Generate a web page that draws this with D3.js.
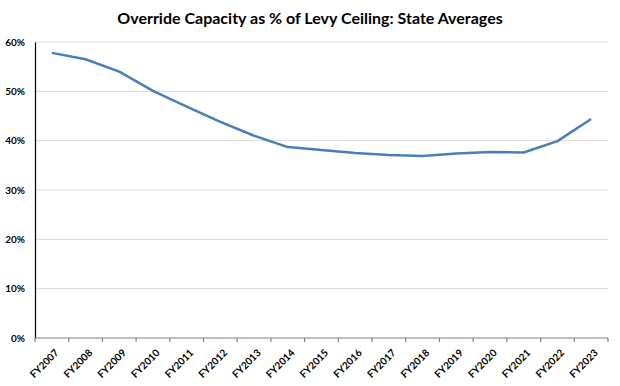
<!DOCTYPE html>
<html>
<head>
<meta charset="utf-8">
<script src="https://cdn.jsdelivr.net/npm/d3@7"></script>
<style>
  body { margin: 0; background: #fff; }
  svg text { font-family: Lato, "Open Sans", sans-serif; }
</style>
</head>
<body>
<div id="chart"></div>
<script>
const years = ["FY2007","FY2008","FY2009","FY2010","FY2011","FY2012","FY2013","FY2014","FY2015",
  "FY2016","FY2017","FY2018","FY2019","FY2020","FY2021","FY2022","FY2023"];
const overridePct = [0.578, 0.565, 0.540, 0.501, 0.469, 0.438, 0.410, 0.387, 0.381,
  0.375, 0.371, 0.369, 0.374, 0.377, 0.376, 0.399, 0.444];
const yTicks = [0, 0.1, 0.2, 0.3, 0.4, 0.5, 0.6];

const width = 620, height = 386;
const margin = {top: 42, right: 12, bottom: 48, left: 35};

const svg = d3.select("#chart").append("svg")
  .attr("width", width)
  .attr("height", height);

const x = d3.scaleBand()
  .domain(years)
  .range([margin.left, width - margin.right]);

const y = d3.scaleLinear()
  .domain([0, 0.6])
  .range([height - margin.bottom, margin.top]);

// gridlines
svg.append("g")
  .selectAll("line")
  .data(yTicks.slice(1))
  .join("line")
  .attr("x1", margin.left)
  .attr("x2", width - margin.right)
  .attr("y1", d => y(d))
  .attr("y2", d => y(d))
  .attr("stroke", "#d9d9d9")
  .attr("stroke-width", 1);

// y axis
const yAxis = svg.append("g")
  .attr("transform", `translate(${margin.left},0)`)
  .call(d3.axisLeft(y).tickValues(yTicks).tickFormat(d3.format(".0%")).tickSize(0).tickPadding(10));
yAxis.select(".domain").attr("stroke", "#000").attr("stroke-width", 1.2);
yAxis.selectAll("text")
  .attr("font-size", 10)
  .attr("font-weight", "bold")
  .attr("fill", "#000");

// x axis, ticks on band edges
const xAxis = svg.append("g")
  .attr("transform", `translate(0,${height - margin.bottom})`);
xAxis.append("line")
  .attr("x1", margin.left)
  .attr("x2", width - margin.right)
  .attr("stroke", "#808080")
  .attr("stroke-width", 1.2);
xAxis.selectAll(".tk")
  .data(years.concat(["end"]))
  .join("line")
  .attr("class", "tk")
  .attr("x1", (d, i) => i < years.length ? x(d) : x.range()[1])
  .attr("x2", (d, i) => i < years.length ? x(d) : x.range()[1])
  .attr("y1", 0)
  .attr("y2", 4)
  .attr("stroke", "#808080")
  .attr("stroke-width", 1.2);
xAxis.selectAll("text")
  .data(years)
  .join("text")
  .attr("transform", d => `translate(${x(d) + x.bandwidth() / 2 + 5},${13}) rotate(-45)`)
  .attr("text-anchor", "end")
  .attr("dy", "0.35em")
  .attr("font-size", 10)
  .attr("font-weight", "bold")
  .attr("fill", "#000")
  .text(d => d);

// line
const line = d3.line()
  .x((d, i) => x(years[i]) + x.bandwidth() / 2)
  .y(d => y(d));

svg.append("path")
  .datum(overridePct)
  .attr("fill", "none")
  .attr("stroke", "#4a7ebb")
  .attr("stroke-width", 2.5)
  .attr("stroke-linejoin", "round")
  .attr("d", line);

// title
svg.append("text")
  .attr("x", width / 2)
  .attr("y", 24)
  .attr("text-anchor", "middle")
  .attr("font-size", 16)
  .attr("font-weight", "bold")
  .attr("fill", "#000")
  .text("Override Capacity as % of Levy Ceiling: State Averages");
</script>
</body>
</html>
